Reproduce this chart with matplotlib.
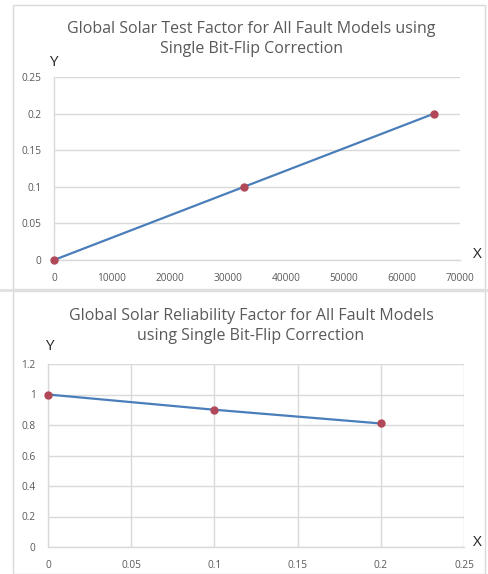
import matplotlib
matplotlib.use("Agg")
import matplotlib.pyplot as plt
from matplotlib.patches import Rectangle
from matplotlib.lines import Line2D

# Test factor vs. number of tested bits
test_x = [0, 32768, 65536]
test_y = [0, 0.1, 0.2]
test_xticks = [0, 10000, 20000, 30000, 40000, 50000, 60000, 70000]
test_yticks = [0, 0.05, 0.1, 0.15, 0.2, 0.25]

# Reliability factor vs. test factor
rel_x = [0, 0.1, 0.2]
rel_y = [1, 0.9, 0.81]
rel_xticks = [0, 0.05, 0.1, 0.15, 0.2, 0.25]
rel_yticks = [0, 0.2, 0.4, 0.6, 0.8, 1, 1.2]

title_top = "Global Solar Test Factor for All Fault Models using\nSingle Bit-Flip Correction"
title_bot = "Global Solar Reliability Factor for All Fault Models\nusing Single Bit-Flip Correction"

W, H = 488, 574
plt.rcParams['font.family'] = ['Open Sans', 'DejaVu Sans']

fig = plt.figure(figsize=(W / 100, H / 100), dpi=100)
fig.patch.set_facecolor("white")

LINE = "#4a7ebb"
MARK = "#b04858"
GRID = "#d9d9d9"
TICK = "#595959"


def fx(px):
    return px / W


def fy(py):
    return 1 - py / H


# panel frames
fig.add_artist(Rectangle((fx(13), fy(289)), fx(485) - fx(13), fy(5) - fy(289),
                         transform=fig.transFigure, fill=False, ec="#d9d9d9", lw=1.0))
fig.add_artist(Rectangle((fx(13), fy(574)), fx(485) - fx(13), fy(291) - fy(574),
                         transform=fig.transFigure, fill=False, ec="#d9d9d9", lw=1.0))
fig.add_artist(Line2D([0, 1], [fy(289.5), fy(289.5)], transform=fig.transFigure,
                      color="#e0e0e0", lw=2.0))


def style(ax, vgrid):
    ax.set_facecolor("white")
    for s in ("top", "right"):
        ax.spines[s].set_visible(False)
    for s in ("left", "bottom"):
        ax.spines[s].set_color(GRID)
        ax.spines[s].set_linewidth(1.0)
    ax.grid(axis="y", color=GRID, lw=1.0)
    if vgrid:
        ax.grid(axis="x", color=GRID, lw=1.0)
    ax.set_axisbelow(True)
    ax.tick_params(length=0, labelsize=7.3, labelcolor=TICK)
    ax.tick_params(axis="x", pad=9)
    ax.tick_params(axis="y", pad=9)


# top chart
ax1 = fig.add_axes([fx(54), fy(260), fx(460) - fx(54), fy(77) - fy(260)])
style(ax1, False)
ax1.plot(test_x, test_y, color=LINE, lw=1.6, marker="o", ms=5,
         mfc=MARK, mec=MARK, clip_on=False, zorder=3)
ax1.set_xlim(0, 70000)
ax1.set_ylim(0, 0.25)
ax1.set_xticks(test_xticks)
ax1.set_xticklabels([f"{v:d}" for v in test_xticks])
ax1.set_yticks(test_yticks)
ax1.set_yticklabels(["0", "0.05", "0.1", "0.15", "0.2", "0.25"])
fig.text(fx(251), fy(39), title_top, ha="center", va="center", fontsize=11.5,
         color="#595959", linespacing=1.4)
fig.text(fx(53), fy(63), "Y", ha="center", va="center", fontsize=11, color="#222222")
fig.text(fx(477), fy(255), "X", ha="center", va="center", fontsize=11, color="#222222")

# bottom chart
ax2 = fig.add_axes([fx(48), fy(547), fx(464) - fx(48), fy(364) - fy(547)])
style(ax2, True)
ax2.plot(rel_x, rel_y, color=LINE, lw=1.6, marker="o", ms=5,
         mfc=MARK, mec=MARK, clip_on=False, zorder=3)
ax2.set_xlim(0, 0.25)
ax2.set_ylim(0, 1.2)
ax2.set_xticks(rel_xticks)
ax2.set_xticklabels(["0", "0.05", "0.1", "0.15", "0.2", "0.25"])
ax2.set_yticks(rel_yticks)
ax2.set_yticklabels(["0", "0.2", "0.4", "0.6", "0.8", "1", "1.2"])
fig.text(fx(251), fy(326), title_bot, ha="center", va="center", fontsize=11.5,
         color="#595959", linespacing=1.4)
fig.text(fx(49), fy(347), "Y", ha="center", va="center", fontsize=11, color="#222222")
fig.text(fx(477), fy(543), "X", ha="center", va="center", fontsize=11, color="#222222")

fig.savefig("out.png", dpi=100, facecolor="white")
